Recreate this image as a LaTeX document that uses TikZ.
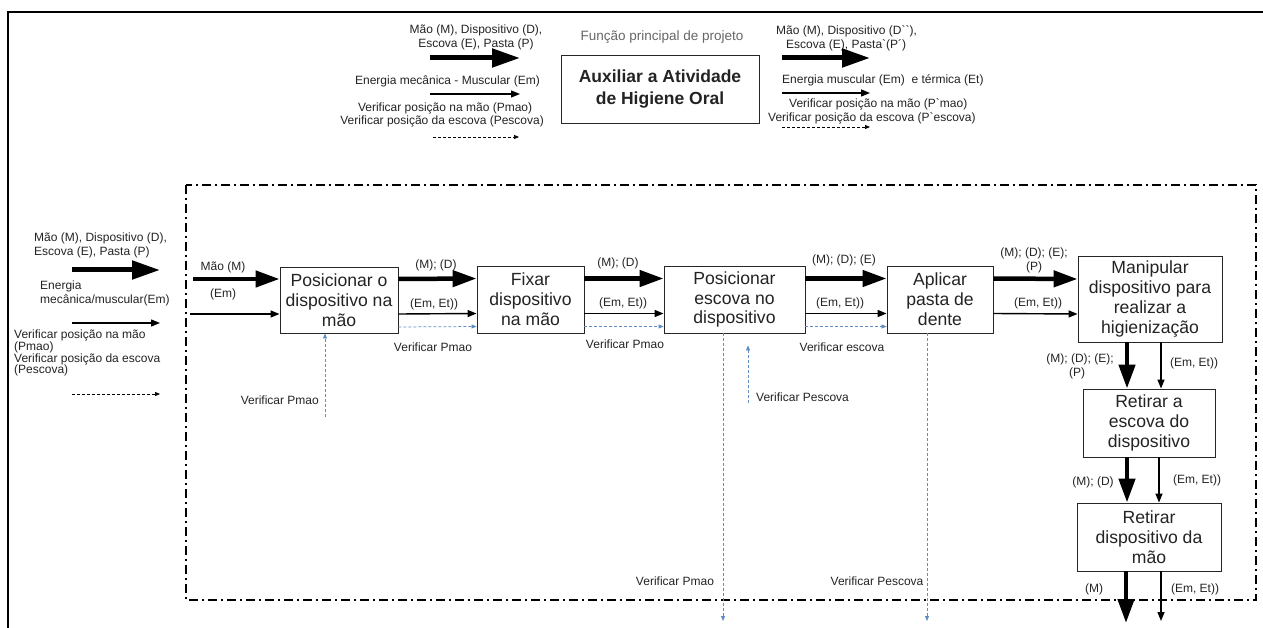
\documentclass[tikz,border=0pt]{standalone}
\usepackage{fontspec}
\setmainfont{Liberation Sans}[Ligatures=TeXOff]
\usetikzlibrary{arrows.meta}
\definecolor{vblue}{RGB}{95,140,195}
\definecolor{txt}{RGB}{35,35,35}
\begin{document}
\begin{tikzpicture}[x=1pt,y=-1pt,
 box/.style={draw=black!85, line width=0.9pt, align=center, font=\fontsize{17.6}{19.8}\selectfont, inner sep=0pt, text=txt},
 lab/.style={font=\fontsize{12}{13.8}\selectfont, inner sep=0pt, align=center, text=txt},
 bigarr/.style={line width=4.5pt, -{Triangle[length=24pt,width=16pt]}},
 bigarrL/.style={line width=5pt, -{Triangle[length=28pt,width=18pt]}},
 thinarr/.style={line width=1.4pt, -{Triangle[length=9pt,width=7pt]}},
 dasharr/.style={line width=0.7pt, dash pattern=on 3pt off 2pt, -{Triangle[length=5pt,width=4pt]}},
 bluearr/.style={line width=0.75pt, draw=vblue, dash pattern=on 3pt off 2pt, -{Triangle[length=5pt,width=4pt,fill=vblue]}},
]
\useasboundingbox (0,0) rectangle (1263,628);
% outer frame
\draw[line width=1.8pt] (8,628) -- (8,12) -- (1263,12);

% ---------- top legend (left) ----------
\node[lab] (tl1) at (476,37) {Mão (M), Dispositivo (D),\\Escova (E), Pasta (P)};
\coordinate (ta1) at (430,58); \coordinate (tb1) at (520,58);
\draw[bigarrL] (ta1) -- (tb1);
\node[lab, anchor=east] (tl2) at (540,81) {Energia mecânica - Muscular (Em)};
\coordinate (ta2) at (430,94); \coordinate (tb2) at (520,94);
\draw[thinarr] (ta2) -- (tb2);
\node[lab, anchor=east, align=center] (tl3) at (544,115) {\hspace*{6pt}Verificar posição na mão (Pmao)\\Verificar posição da escova (Pescova)};
\coordinate (ta3) at (433,137); \coordinate (tb3) at (519,137);
\draw[dasharr] (ta3) -- (tb3);

% ---------- main function ----------
\node[font=\fontsize{13.5}{16}\selectfont, text=black!60, inner sep=0pt] (fp) at (662,37) {Função principal de projeto};
\node[draw=black!85, line width=0.9pt, minimum width=198pt, minimum height=68pt, align=center, inner sep=0pt,
      font=\fontsize{17.5}{22}\selectfont\bfseries, text=txt] (main) at (660,89) {Auxiliar a Atividade\\de Higiene Oral};

% ---------- top legend (right) ----------
\node[lab, anchor=west, align=left] (tr1) at (776,38) {Mão (M), Dispositivo (D``),\\\hspace*{10pt}Escova (E), Pasta`(P´)};
\coordinate (ra1) at (782,58); \coordinate (rb1) at (870,58);
\draw[bigarrL] (ra1) -- (rb1);
\node[lab, anchor=west] (tr2) at (782,80) {Energia muscular (Em)\ \ e térmica (Et)};
\coordinate (ra2) at (782,93); \coordinate (rb2) at (870,93);
\draw[thinarr] (ra2) -- (rb2);
\node[lab, anchor=west, align=left] (tr3) at (768,111) {\hspace*{21pt}Verificar posição na mão (P`mao)\\Verificar posição da escova (P`escova)};
\coordinate (ra3) at (782,127); \coordinate (rb3) at (870,127);
\draw[dasharr] (ra3) -- (rb3);

% ---------- left legend ----------
\node[lab, anchor=west, align=left] (ll1) at (34,245) {Mão (M), Dispositivo (D),\\Escova (E), Pasta (P)};
\coordinate (la1) at (72,270); \coordinate (lb1) at (160,270);
\draw[bigarrL] (la1) -- (lb1);
\node[lab, anchor=west, align=left] (ll2) at (40,293) {Energia\\mecânica/muscular(Em)};
\coordinate (la2) at (72,323); \coordinate (lb2) at (160,323);
\draw[thinarr] (la2) -- (lb2);
\node[lab, anchor=west, align=left, font=\fontsize{12}{11.8}\selectfont] (ll3) at (14,353) {Verificar posição na mão\\(Pmao)\\Verificar posição da escova\\(Pescova)};
\coordinate (la3) at (72,394); \coordinate (lb3) at (160,394);
\draw[dasharr] (la3) -- (lb3);

% ---------- system boundary ----------
\draw[line width=1.3pt, dash pattern=on 9pt off 4pt on 2pt off 4pt] (186,185) rectangle (1256,600);

% ---------- boxes ----------
\node[box, minimum width=118pt, minimum height=66pt] (b1) at (339,300) {Posicionar o\\dispositivo na\\mão};
\node[box, minimum width=107pt, minimum height=67pt] (b2) at (530.5,299.5) {Fixar\\dispositivo\\na mão};
\node[box, minimum width=141pt, minimum height=67pt] (b3) at (734.5,299.5) {Posicionar\\escova no\\dispositivo};
\node[box, minimum width=106pt, minimum height=67pt] (b4) at (940,299.5) {Aplicar\\pasta de\\dente};
\node[box, minimum width=144pt, minimum height=86pt] (b5) at (1150,299) {Manipular\\dispositivo para\\realizar a\\higienização};
\node[box, minimum width=132pt, minimum height=68pt] (b6) at (1149,423) {Retirar a\\escova do\\dispositivo};
\node[box, minimum width=144pt, minimum height=68pt] (b7) at (1149,537) {Retirar\\dispositivo da\\mão};

% ---------- inputs to b1 ----------
\coordinate (i1) at (193,279); \coordinate (i2) at (190,314);
\draw[bigarr] (i1) -- ([yshift=21pt]b1.west);
\draw[thinarr] (i2) -- ([yshift=-14pt]b1.west);
\node[lab] (l01) at (223,267) {Mão (M)};
\node[lab] (l02) at (223,294) {(Em)};
\coordinate (i3) at (325,417);
\draw[bluearr] (i3) -- ([xshift=-14pt]b1.south);
\node[lab, anchor=east] (l03) at (319,400) {Verificar Pmao};

% ---------- b1 -> b2 ----------
\draw[bigarr] ([yshift=21pt]b1.east) -- ([yshift=21pt]b2.west);
\draw[thinarr] ([yshift=-14pt]b1.east) -- ([yshift=-14pt]b2.west);
\draw[bluearr] ([yshift=-27pt]b1.east) -- ([yshift=-27pt]b2.west);
\node[lab] (l11) at (436,265) {(M); (D)};
\node[lab] (l12) at (434,304) {(Em, Et))};
\node[lab] (l13) at (433,347) {Verificar Pmao};

% ---------- b2 -> b3 ----------
\draw[bigarr] ([yshift=21pt]b2.east) -- ([yshift=21pt]b3.west);
\draw[thinarr] ([yshift=-14pt]b2.east) -- ([yshift=-14pt]b3.west);
\draw[bluearr] ([yshift=-27pt]b2.east) -- ([yshift=-27pt]b3.west);
\node[lab] (l21) at (618,263) {(M); (D)};
\node[lab] (l22) at (623,303) {(Em, Et))};
\node[lab] (l23) at (625,344) {Verificar Pmao};

% ---------- b3 verification ----------
\coordinate (o3) at (723,621);
\draw[bluearr] ([xshift=-11.5pt]b3.south) -- (o3);
\node[lab] (l31) at (675,581) {Verificar Pmao};
\coordinate (i4) at (748,403);
\draw[bluearr] (i4) -- ([xshift=13.5pt,yshift=-12pt]b3.south);
\node[lab, anchor=west] (l32) at (756,397) {Verificar Pescova};

% ---------- b3 -> b4 ----------
\draw[bigarr] ([yshift=21pt]b3.east) -- ([yshift=21pt]b4.west);
\draw[thinarr] ([yshift=-14pt]b3.east) -- ([yshift=-14pt]b4.west);
\draw[bluearr] ([yshift=-27pt]b3.east) -- ([yshift=-27pt]b4.west);
\node[lab] (l41) at (844,260) {(M); (D); (E)};
\node[lab] (l42) at (840,303) {(Em, Et))};
\node[lab] (l43) at (842,347) {Verificar escova};

% ---------- b4 verification ----------
\coordinate (o4) at (927,621);
\draw[bluearr] ([xshift=-13pt]b4.south) -- (o4);
\node[lab] (l44) at (877,581) {Verificar Pescova};

% ---------- b4 -> b5 ----------
\draw[bigarr] ([yshift=21pt]b4.east) -- ([yshift=20pt]b5.west);
\draw[thinarr] ([yshift=-14pt]b4.east) -- ([yshift=-15pt]b5.west);
\node[lab] (l51) at (1034,260) {(M); (D); (E);\\(P)};
\node[lab] (l52) at (1038,303) {(Em, Et))};

% ---------- b5 -> b6 ----------
\draw[bigarr] ([xshift=-23pt]b5.south) -- ([xshift=-22pt]b6.north);
\draw[thinarr] ([xshift=11pt]b5.south) -- ([xshift=12pt]b6.north);
\node[lab] (l61) at (1080,366) {(M); (D); (E);\\\hspace*{-6pt}(P)};
\node[lab] (l62) at (1194,363) {(Em, Et))};

% ---------- b6 -> b7 ----------
\draw[bigarr] ([xshift=-22pt]b6.south) -- ([xshift=-22pt]b7.north);
\draw[thinarr] ([xshift=10pt]b6.south) -- ([xshift=10pt]b7.north);
\node[lab] (l71) at (1093,482) {(M); (D)};
\node[lab] (l72) at (1197,480) {(Em, Et))};

% ---------- outputs of b7 ----------
\coordinate (o7a) at (1126,623); \coordinate (o7b) at (1161,621);
\draw[bigarr] ([xshift=-23pt]b7.south) -- (o7a);
\draw[thinarr] ([xshift=12pt]b7.south) -- (o7b);
\node[lab] (l81) at (1094,589) {(M)};
\node[lab] (l82) at (1195,589) {(Em, Et))};
\end{tikzpicture}
\end{document}
